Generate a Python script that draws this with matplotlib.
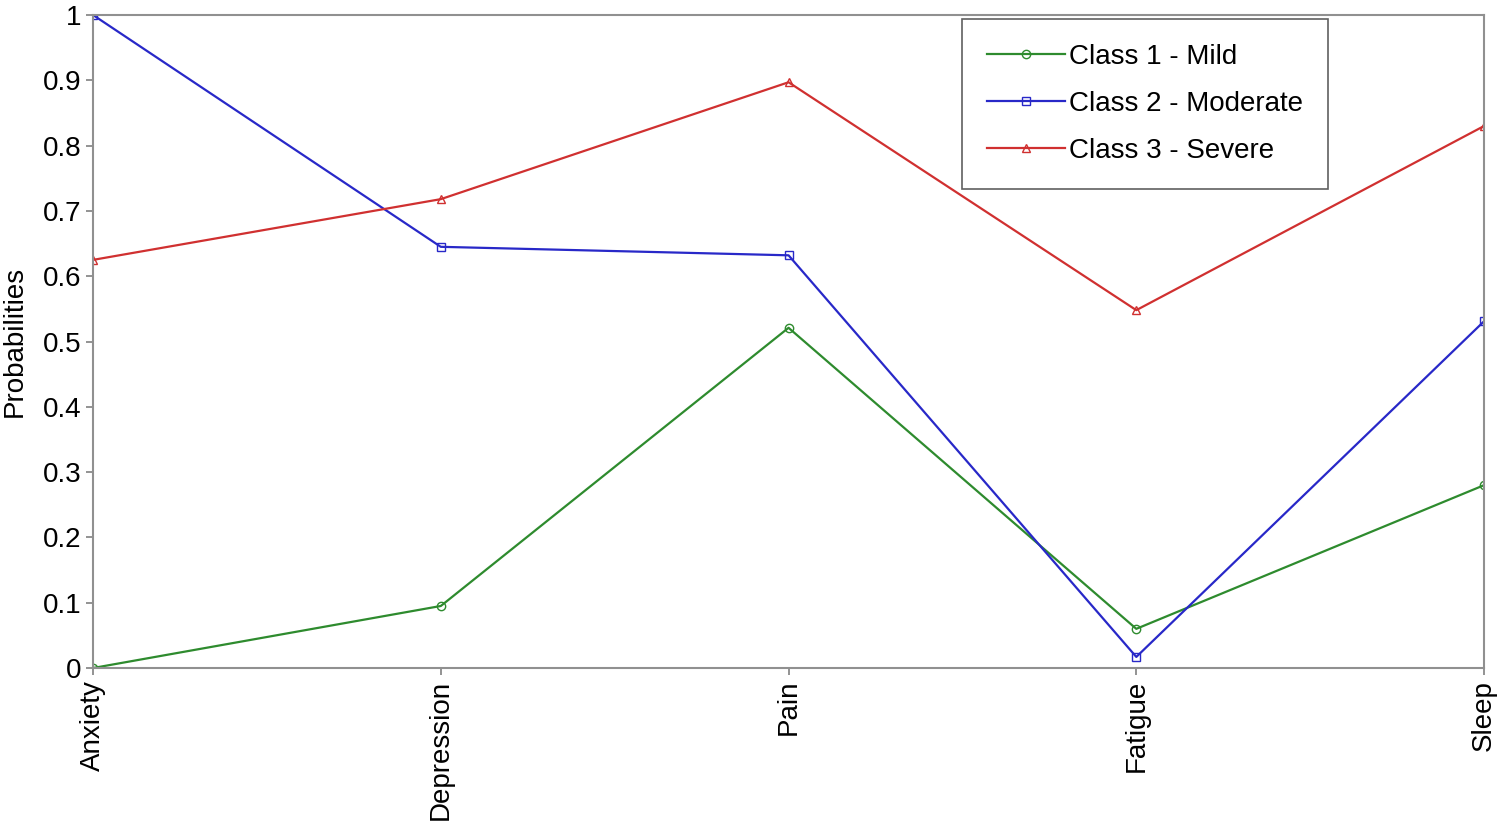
import numpy as np
import matplotlib.pyplot as plt

plt.rcParams['font.family'] = ['Liberation Sans', 'DejaVu Sans']

# Datos
categories = ['Anxiety', 'Depression', 'Pain', 'Fatigue', 'Sleep']
mild = [0.0, 0.095, 0.521, 0.060, 0.280]
moderate = [1.0, 0.645, 0.632, 0.017, 0.531]
severe = [0.625, 0.718, 0.897, 0.548, 0.830]
labels = ['Class 1 - Mild', 'Class 2 - Moderate', 'Class 3 - Severe']

fig = plt.figure(figsize=(15.03, 8.24), dpi=100)
ax = fig.add_axes([0.0619, 0.1893, 0.9255, 0.7925])

x = np.arange(len(categories))
ax.plot(x, mild, color='#2e8b2e', marker='o', ms=6, mfc='none', lw=1.6, label=labels[0])
ax.plot(x, moderate, color='#2828c8', marker='s', ms=6, mfc='none', lw=1.6, label=labels[1])
ax.plot(x, severe, color='#d03030', marker='^', ms=6, mfc='none', lw=1.6, label=labels[2])

ax.set_xlim(0, 4)
ax.set_ylim(0, 1)
ax.set_xticks(x)
ax.set_xticklabels(categories, rotation=90, fontsize=20)
ax.set_yticks(np.arange(0, 1.01, 0.1))
ax.set_yticklabels(['0', '0.1', '0.2', '0.3', '0.4', '0.5', '0.6', '0.7', '0.8', '0.9', '1'], fontsize=20)
ax.set_ylabel('Probabilities', fontsize=20, labelpad=11)
ax.tick_params(colors='#808080', labelcolor='black', length=5, width=1.2)
for s in ax.spines.values():
    s.set_color('#909090')
    s.set_linewidth(1.5)

leg = ax.legend(loc='upper right', bbox_to_anchor=(0.888, 0.994), fontsize=20, handlelength=2.8,
                handletextpad=0.15, borderpad=0.9, labelspacing=0.75, borderaxespad=0,
                fancybox=False, framealpha=1, edgecolor='#606060')
leg.get_frame().set_linewidth(1.2)

fig.savefig('out.png', dpi=100)
